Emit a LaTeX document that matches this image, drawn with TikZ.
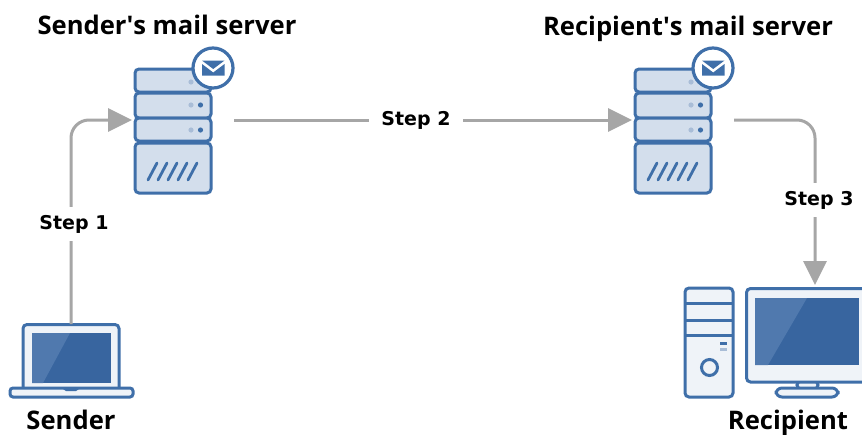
\documentclass[tikz,border=0pt]{standalone}
\usepackage{fontspec}
\setmainfont{Open Sans}
\newfontfamily\stepfont{DejaVu Sans}
\usetikzlibrary{arrows.meta}
\definecolor{edgeblue}{HTML}{3F6FA9}
\definecolor{fillblue}{HTML}{D3DEEC}
\definecolor{paleblue}{HTML}{EFF3F8}
\definecolor{screenblue}{HTML}{38659F}
\definecolor{screenhi}{HTML}{5079AE}
\definecolor{dotlight}{HTML}{A9BDD7}
\definecolor{conngray}{HTML}{A6A6A6}
\tikzset{
  x=1pt,y=-1pt,
  anchorbox/.style={inner sep=0pt,outer sep=0pt,minimum width=#1},
  title/.style={font=\fontsize{25.6}{28}\selectfont\bfseries,text=black,inner sep=0pt,anchor=base},
  steplabel/.style={font=\stepfont\fontsize{19}{22}\selectfont\bfseries,text=black,fill=white,inner xsep=12pt,inner ysep=8pt,anchor=base},
  conn/.style={draw=conngray,line width=3pt,-{Triangle[length=24pt,width=23pt]},rounded corners=18pt},
  part/.style={draw=edgeblue,line width=3pt,fill=fillblue,rounded corners=4pt},
  partpale/.style={draw=edgeblue,line width=3pt,fill=paleblue,rounded corners=4pt},
  serverpic/.pic={
    \path[part] (135,69) rectangle (211,92);
    \path[part] (135,93) rectangle (211,118);
    \path[part] (135,118) rectangle (211,141);
    \path[part] (135,143) rectangle (211,193);
    \fill[dotlight] (191,82) circle (2.6pt) (191,105) circle (2.6pt) (191,130) circle (2.6pt);
    \fill[edgeblue] (200.5,105) circle (2.6pt) (200.5,130) circle (2.6pt);
    \draw[edgeblue,line width=2.8pt,line cap=round]
      (148,180) -- (157,163) (158,180) -- (167,163) (168,180) -- (177,163)
      (178,180) -- (187,163) (188,180) -- (197,163);
    \path[draw=edgeblue,line width=3.2pt,fill=white] (213,68) circle (20pt);
    \fill[edgeblue] (202,60.5) -- (224.5,60.5) -- (213.2,69) -- cycle;
    \fill[edgeblue] (202,64) -- (213.2,72.5) -- (224.5,64) -- (224.5,75.5) -- (202,75.5) -- cycle;
  },
}
\begin{document}
\begin{tikzpicture}
\useasboundingbox (0,0) rectangle (862,434);
\fill[white] (0,0) rectangle (862,434);

% invisible frames the connectors attach to
\node[anchorbox=102pt,minimum height=102pt] (srv1) at (183,120) {};
\node[anchorbox=102pt,minimum height=102pt] (srv2) at (683,120) {};
\node[anchorbox=124pt,minimum height=73pt] (laptop) at (71,360.5) {};
\node[anchorbox=94pt,minimum height=112pt] (pc) at (815,341) {};

% servers
\pic at (0,0) {serverpic};
\pic at (500,0) {serverpic};

% laptop
\path[partpale,rounded corners=4pt] (23,388) -- (23,324.5) -- (119,324.5) -- (119,388);
\fill[screenblue] (32,333) rectangle (111,383);
\fill[screenhi] (32,333) -- (70,333) -- (43,383) -- (32,383) -- cycle;
\path[partpale,rounded corners=3pt] (10,388) rectangle (133,397);
\fill[edgeblue] (63,387) -- (79,387) -- (79,389) -- (76,391) -- (66,391) -- (63,389) -- cycle;

% desktop tower
\path[partpale] (685,288) rectangle (733,397);
\draw[edgeblue,line width=3pt] (685,303) -- (733,303) (685,320) -- (733,320) (685,335) -- (733,335);
\fill[edgeblue] (720,342) rectangle (727,345);
\fill[dotlight] (720,348) rectangle (727,350.5);
\draw[edgeblue,line width=3pt,fill=paleblue] (709.5,367.5) circle (8pt);

% monitor
\path[partpale] (797,381) rectangle (818,389);
\path[partpale,rounded corners=6pt] (776,388) rectangle (838,397);
\path[partpale] (746.5,288.5) rectangle (870,382);
\fill[screenblue] (755,298) rectangle (859,365);
\fill[screenhi] (755,298) -- (807,298) -- (768,365) -- (755,365) -- cycle;

% titles
\node[title] (t1) at (167,34) {Sender\textquotesingle s mail server};
\node[title] (t2) at (688,35) {Recipient\textquotesingle s mail server};
\node[title] (t3) at (71,429.5) {Sender};
\node[title] (t4) at (788,429) {Recipient};

% connectors
\path[conn] (laptop.north) |- (srv1.west);
\path[conn] (srv1.east) -- (srv2.west);
\path[conn] (srv2.east) -| (pc.north);

% connector labels
\node[steplabel] (s1) at (74,229) {Step 1};
\node[steplabel] (s2) at (416,125) {Step 2};
\node[steplabel] (s3) at (819,205) {Step 3};
\end{tikzpicture}
\end{document}
